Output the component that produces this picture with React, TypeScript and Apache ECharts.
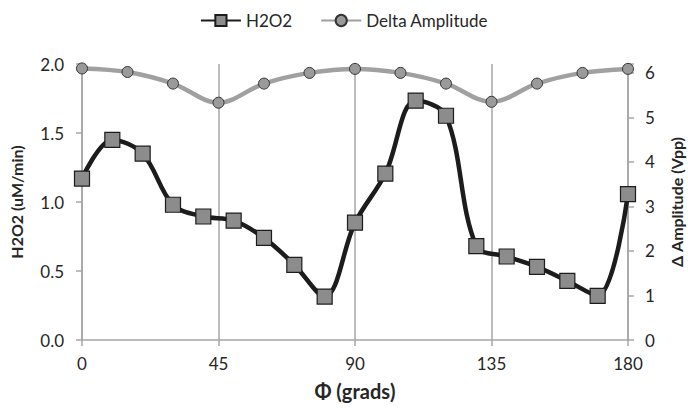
import React, { useEffect, useRef } from "react";
import * as echarts from "echarts";

const h2o2X = [0, 10, 20, 30, 40, 50, 60, 70, 80, 90, 100, 110, 120, 130, 140, 150, 160, 170, 180];
const h2o2Y = [1.17, 1.45, 1.35, 0.98, 0.895, 0.865, 0.74, 0.545, 0.315, 0.85, 1.205, 1.735, 1.625, 0.68, 0.605, 0.53, 0.428, 0.32, 1.057];
const deltaX = [0, 15, 30, 45, 60, 75, 90, 105, 120, 135, 150, 165, 180];
const deltaY = [6.1, 6.02, 5.76, 5.33, 5.76, 6.0, 6.09, 6.0, 5.76, 5.35, 5.76, 6.0, 6.09];

const FONT = "Lato, 'Open Sans', sans-serif";
const AXIS = "#a6a6a6";
const TEXT = "#262626";

export default function App() {
  const ref = useRef<HTMLDivElement>(null);
  useEffect(() => {
    if (!ref.current) return;
    const chart = echarts.init(ref.current, undefined, { renderer: "svg" });
    chart.setOption({
      animation: false,
      backgroundColor: "#ffffff",
      textStyle: { fontFamily: FONT },
      legend: {
        top: 7,
        left: "center",
        itemWidth: 40,
        itemHeight: 14,
        itemGap: 28,
        textStyle: { fontFamily: FONT, fontSize: 17, color: TEXT },
        data: ["H2O2", "Delta Amplitude"],
      },
      grid: { left: 82, right: 60, top: 64, bottom: 68, containLabel: false, outerBoundsMode: "none" },
      xAxis: {
        type: "value",
        min: 0,
        max: 180,
        interval: 45,
        name: "Φ (grads)",
        nameLocation: "middle",
        nameGap: 41,
        nameTextStyle: { fontFamily: FONT, fontSize: 20, fontWeight: "bold", color: TEXT },
        axisLine: { show: true, lineStyle: { color: AXIS, width: 1.5 } },
        axisTick: { show: true, inside: false, length: 6, lineStyle: { color: AXIS, width: 1.5 } },
        axisLabel: { fontFamily: FONT, fontSize: 17, color: TEXT, margin: 15 },
        splitLine: { show: true, lineStyle: { color: AXIS, width: 1.5 } },
      },
      yAxis: [
        {
          type: "value",
          min: 0,
          max: 2,
          interval: 0.5,
          name: "H2O2 (uM/min)",
          nameLocation: "middle",
          nameGap: 58,
          nameRotate: 90,
          nameTextStyle: { fontFamily: FONT, fontSize: 16, fontWeight: "bold", color: TEXT },
          axisLine: { show: true, lineStyle: { color: AXIS, width: 1.5 } },
          axisTick: { show: true, length: 6, lineStyle: { color: AXIS, width: 1.5 } },
          axisLabel: { fontFamily: FONT, fontSize: 17, color: TEXT, margin: 18, formatter: (v: number) => v.toFixed(1) },
          splitLine: { show: false },
        },
        {
          type: "value",
          min: 0,
          max: 6.2,
          interval: 1,
          position: "right",
          name: "Δ Amplitude (Vpp)",
          nameLocation: "middle",
          nameGap: 40,
          nameRotate: 90,
          nameTextStyle: { fontFamily: FONT, fontSize: 16, fontWeight: "bold", color: TEXT },
          axisLine: { show: true, lineStyle: { color: AXIS, width: 1.5 } },
          axisTick: { show: true, length: 6, lineStyle: { color: AXIS, width: 1.5 } },
          axisLabel: {
            fontFamily: FONT,
            fontSize: 17,
            color: TEXT,
            margin: 17,
            formatter: (v: number) => (Math.abs(v - Math.round(v)) < 1e-6 ? String(Math.round(v)) : ""),
          },
          splitLine: { show: false },
        },
      ],
      series: [
        {
          name: "Delta Amplitude",
          type: "line",
          yAxisIndex: 1,
          smooth: 0.35,
          data: deltaX.map((x, i) => [x, deltaY[i]]),
          lineStyle: { color: "#a0a0a0", width: 4.5 },
          symbol: "circle",
          symbolSize: 11,
          itemStyle: { color: "#9a9a9a", borderColor: "#333333", borderWidth: 1 },
          z: 2,
        },
        {
          name: "H2O2",
          type: "line",
          yAxisIndex: 0,
          smooth: 0.35,
          data: h2o2X.map((x, i) => [x, h2o2Y[i]]),
          lineStyle: { color: "#1c1c1c", width: 4.5 },
          symbol: "rect",
          symbolSize: 15,
          itemStyle: { color: "#8c8c8c", borderColor: "#1c1c1c", borderWidth: 1.2 },
          z: 3,
        },
      ],
    });
    return () => chart.dispose();
  }, []);
  return <div ref={ref} style={{ width: 688, height: 408, position: "absolute", left: 0, top: 0 }} />;
}
